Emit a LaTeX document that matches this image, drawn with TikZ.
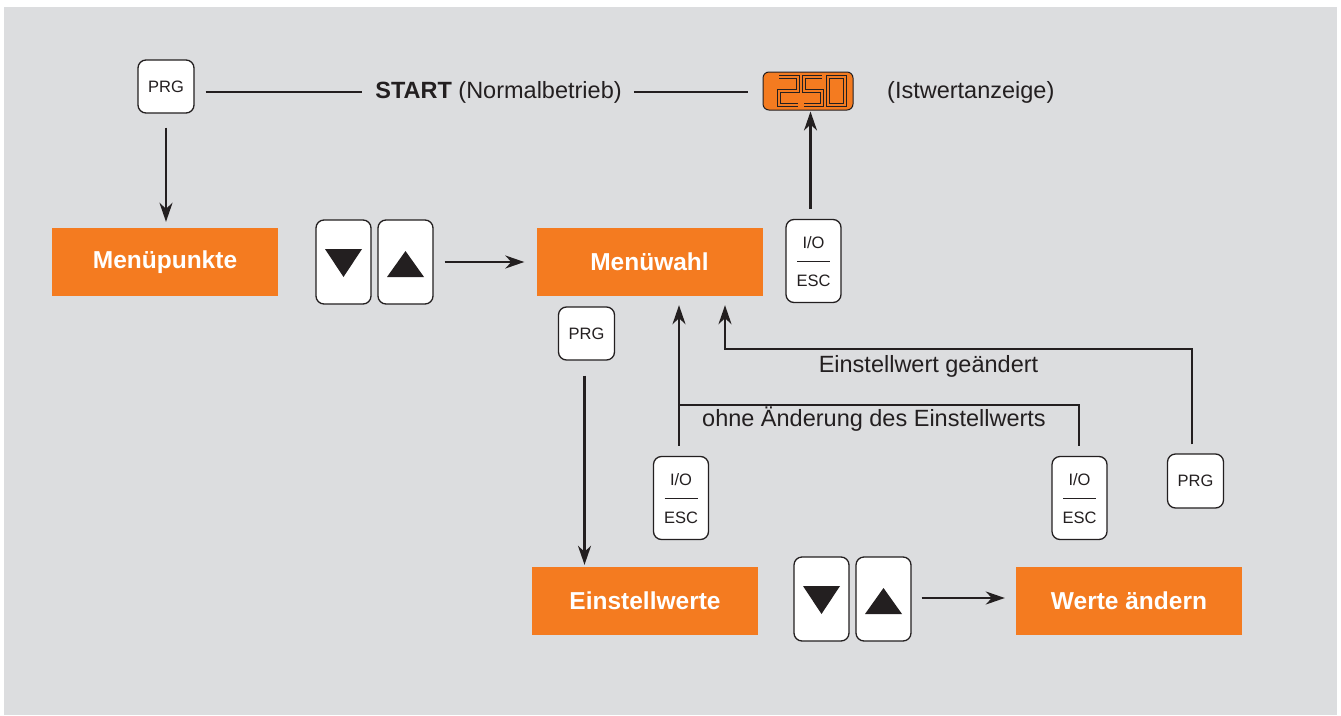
\documentclass[tikz,border=0pt]{standalone}
\usepackage{fontspec}
\setmainfont{Liberation Sans}
\usetikzlibrary{arrows.meta}
\definecolor{bg}{HTML}{DCDDDF}
\definecolor{org}{HTML}{F47B20}
\definecolor{ink}{HTML}{231F20}
\newcommand\keypairbtn[3]{%
  \node[btn, minimum width=55pt, minimum height=84pt] (#1d) at (#2,#3) {};
  \node[btn, minimum width=55pt, minimum height=84pt] (#1u) at ([xshift=62pt]#1d.center) {};
  \fill[ink] ([shift={(-18.5pt,13pt)}]#1d.center) -- ([shift={(18.5pt,13pt)}]#1d.center) -- ([shift={(0pt,-15pt)}]#1d.center) -- cycle;
  \fill[ink] ([shift={(-18.5pt,-15pt)}]#1u.center) -- ([shift={(18.5pt,-15pt)}]#1u.center) -- ([shift={(0pt,11pt)}]#1u.center) -- cycle;
}
\newcommand\ioescbtn[3]{%
  \node[btn, minimum width=55pt, minimum height=83pt] (#1) at (#2,#3) {};
  \node[btxt] (#1t) at ([yshift=18pt]#1.center) {I/O};
  \node[btxt] (#1b) at ([yshift=-20pt]#1.center) {ESC};
  \draw[ink, line width=0.9pt] ([xshift=-16.5pt]#1.center) -- ([xshift=16.5pt]#1.center);
}
\begin{document}
\begin{tikzpicture}[x=1pt,y=-1pt,
  btn/.style={draw=ink, fill=white, line width=1.3pt, rounded corners=8pt, inner sep=0pt},
  obox/.style={fill=org, minimum width=226pt, minimum height=68pt, text=white, font=\fontsize{24.5}{28}\selectfont\bfseries, inner sep=0pt},
  lbl/.style={text=ink, font=\fontsize{23.5}{27}\selectfont, inner sep=0pt},
  btxt/.style={text=ink, font=\fontsize{16.5}{19}\selectfont, inner sep=0pt},
  conn/.style={draw=ink, line width=2.4pt},
  arr/.style={conn, -{Stealth[length=19pt,width=13pt,inset=6pt]}},
  seg/.style={draw=ink, line width=0.9pt, double=org, double distance=2.8pt, line join=miter},
]
\useasboundingbox (0,0) rectangle (1341,715);
\fill[white] (0,0) rectangle (1341,715);
\fill[bg] (4,7) rectangle (1337,715);

% top row
\node[btn, btxt, minimum width=56pt, minimum height=53pt] (prg1) at (166,86.5) {PRG};
\node[lbl] (start) at (498.5,92) {\textbf{START} (Normalbetrieb)};
\node[draw=ink, fill=org, rounded corners=6pt, minimum width=90pt, minimum height=38pt, line width=1pt] (disp) at (808,91) {};
\node[lbl, anchor=west] (ist) at (887,92) {(Istwertanzeige)};
\draw[conn, line width=2pt, shorten <=11pt, shorten >=13pt] (prg1.east |- start.west) -- (start.west);
\draw[conn, line width=2pt, shorten <=12pt, shorten >=15pt] (start.east) -- (disp.west |- start.east);
% digits 250
\draw[seg] (779,77) -- (798,77) -- (798,91) -- (779,91) -- (779,105) -- (798,105);
\draw[seg] (822,77) -- (804,77) -- (804,91) -- (822,91) -- (822,105) -- (804,105);
\draw[seg] (828,77) rectangle (845,105);

% second row
\node[obox] (menup) at (165,262) {Menüpunkte};
\keypairbtn{ka}{343.5}{262}
\node[obox] (menuwahl) at (649.5,262) {Menüwahl};
\ioescbtn{ioa}{813.5}{261}

\draw[arr, shorten <=14pt, shorten >=6pt] (prg1.south) -- (prg1.south |- menup.north);
\draw[arr, shorten <=11pt, shorten >=12pt] (kau.east) -- (menuwahl.west);
\draw[arr, shorten <=10pt, shorten >=1pt] ([xshift=-3pt]ioa.north) -- ([xshift=-3pt]ioa.north |- disp.south);

% middle
\node[btn, btxt, minimum width=56pt, minimum height=53pt] (prgb) at (586.5,333.5) {PRG};
\ioescbtn{iob}{681}{498}
\ioescbtn{ioc}{1079.5}{498}
\node[btn, btxt, minimum width=56pt, minimum height=54pt] (prgc) at (1195.5,481) {PRG};

% bottom row
\node[obox] (einst) at (645,601) {Einstellwerte};
\keypairbtn{kb}{821.5}{599}
\node[obox] (werte) at (1129,601) {Werte ändern};

\draw[arr, shorten <=15pt, shorten >=2pt] ([xshift=-2pt]prgb.south) -- ([xshift=-2pt]prgb.south |- einst.north);
\draw[arr, shorten <=10pt, shorten >=11pt] ([yshift=1pt]kbu.east) -- ([yshift=1pt]werte.west |- kbu.east);

\draw[arr, shorten <=10pt, shorten >=9pt] ([xshift=-2pt]iob.north) -- ([xshift=-2pt]iob.north |- menuwahl.south);
\coordinate (ja) at (679,405);
\draw[conn, shorten <=10pt] ([xshift=-0.5pt]ioc.north) |- (ja);
\node[lbl] (lohne) at (874,419) {ohne Änderung des Einstellwerts};

\coordinate (jb) at (725,349);
\draw[arr, shorten <=9pt, shorten >=9pt] ([xshift=-3.5pt]prgc.north) |- (jb) -- (jb |- menuwahl.south);
\node[lbl] (lgeae) at (928.5,366) {Einstellwert geändert};
\end{tikzpicture}
\end{document}
